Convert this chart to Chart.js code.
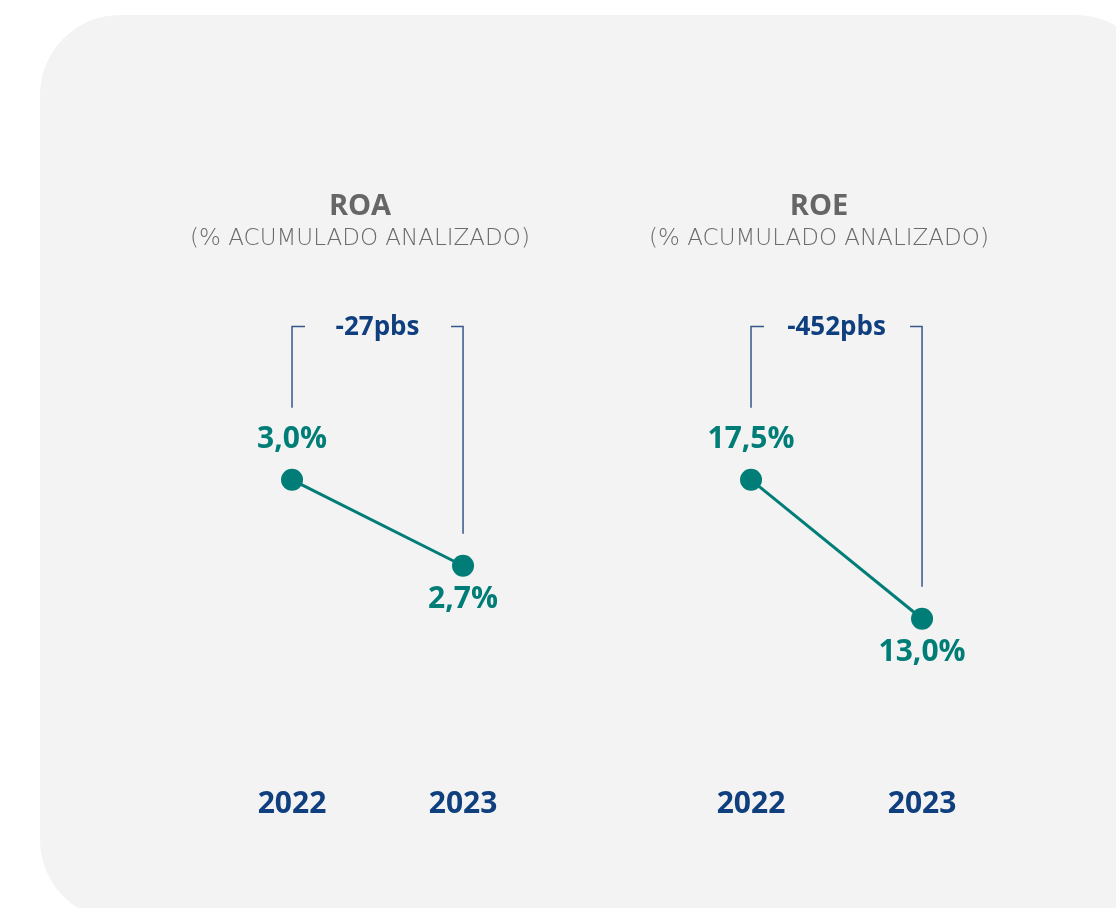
<!DOCTYPE html>
<html>
<head>
<meta charset="utf-8">
<script src="https://cdn.jsdelivr.net/npm/chart.js@4"></script>
<style>
  html, body { margin: 0; padding: 0; background: #fff; overflow: hidden; }
  body { width: 1116px; height: 908px; position: relative; }
  .panel { position: absolute; left: 40px; top: 15px; width: 1116px; height: 905px; background: #f3f3f3; border-radius: 80px; }
  .chart-box { position: absolute; top: 175px; width: 360px; height: 647px; }
</style>
</head>
<body>
<div class="panel"></div>
<div class="chart-box" style="left:180px"><canvas id="chart-roa"></canvas></div>
<div class="chart-box" style="left:639px"><canvas id="chart-roe"></canvas></div>
<script>
const years = ['2022', '2023'];
const roaValues = [3.0, 2.7];
const roeValues = [17.5, 13.0];
const roaLabels = ['3,0%', '2,7%'];
const roeLabels = ['17,5%', '13,0%'];
const roaDelta = '-27pbs';
const roeDelta = '-452pbs';
const subtitleText = '(% ACUMULADO ANALIZADO)';

const teal = '#007d77';
const navy = '#0f3f7e';
const bracketColor = '#36578a';
const grey = '#666666';

// labels above the first point, below the others
const valueLabels = {
  id: 'valueLabels',
  afterDatasetsDraw(chart, args, opts) {
    const ctx = chart.ctx;
    const meta = chart.getDatasetMeta(0);
    ctx.save();
    ctx.font = 'bold 30px "Open Sans"';
    ctx.fillStyle = teal;
    ctx.textAlign = 'center';
    ctx.textBaseline = 'middle';
    meta.data.forEach((pt, i) => {
      const dy = i === 0 ? -40 : 34;
      ctx.fillText(opts.labels[i], pt.x, pt.y + dy);
    });
    ctx.restore();
  }
};

// the "-27pbs" bracket joining both years
const deltaBracket = {
  id: 'deltaBracket',
  afterDatasetsDraw(chart, args, opts) {
    const ctx = chart.ctx;
    const [p0, p1] = chart.getDatasetMeta(0).data;
    const top = chart.chartArea.top + 74;
    const mid = (p0.x + p1.x) / 2;
    ctx.save();
    ctx.strokeStyle = bracketColor;
    ctx.lineWidth = 1.5;
    ctx.beginPath();
    ctx.moveTo(p0.x, p0.y - 72);
    ctx.lineTo(p0.x, top);
    ctx.lineTo(p0.x + 13, top);
    ctx.moveTo(p1.x - 12, top);
    ctx.lineTo(p1.x, top);
    ctx.lineTo(p1.x, p1.y - 32);
    ctx.stroke();
    ctx.font = 'bold 26px "Open Sans"';
    ctx.fillStyle = navy;
    ctx.textAlign = 'center';
    ctx.textBaseline = 'middle';
    ctx.fillText(opts.text, mid, top + 1);
    ctx.restore();
  }
};

function buildChart(id, title, values, labels, delta, yMin, yMax) {
  return new Chart(document.getElementById(id), {
    type: 'line',
    data: {
      datasets: [{
        data: values.map((v, i) => ({ x: i, y: v })),
        borderColor: teal,
        backgroundColor: teal,
        borderWidth: 3,
        pointRadius: 11,
        pointHoverRadius: 11,
        pointBorderWidth: 0,
        pointBackgroundColor: teal,
        clip: false
      }]
    },
    options: {
      responsive: true,
      maintainAspectRatio: false,
      animation: false,
      events: [],
      layout: { padding: 0, autoPadding: false },
      plugins: {
        legend: { display: false },
        tooltip: { enabled: false },
        title: {
          display: true, text: title, color: grey,
          font: { family: 'Open Sans', size: 29, weight: 'bold' },
          padding: { top: 14, bottom: 1 }
        },
        subtitle: {
          display: true, text: subtitleText, color: '#6a6a6a',
          font: { family: 'DejaVu Sans', size: 23, weight: '200' },
          padding: { top: 0, bottom: 0 }
        },
        valueLabels: { labels },
        deltaBracket: { text: delta }
      },
      scales: {
        x: {
          type: 'linear',
          min: -0.655, max: 1.45,
          grid: { display: false },
          border: { display: false },
          afterBuildTicks: s => { s.ticks = years.map((_, i) => ({ value: i })); },
          ticks: {
            callback: v => years[v],
            color: navy,
            font: { family: 'Open Sans', size: 30, weight: 'bold' },
            padding: 0, maxRotation: 0, autoSkip: false
          }
        },
        y: { display: false, min: yMin, max: yMax }
      }
    },
    plugins: [valueLabels, deltaBracket]
  });
}

buildChart('chart-roa', 'ROA', roaValues, roaLabels, roaDelta, 1.959, 3.794);
buildChart('chart-roe', 'ROE', roeValues, roeLabels, roeDelta, 7.84, 24.868);
</script>
</body>
</html>
